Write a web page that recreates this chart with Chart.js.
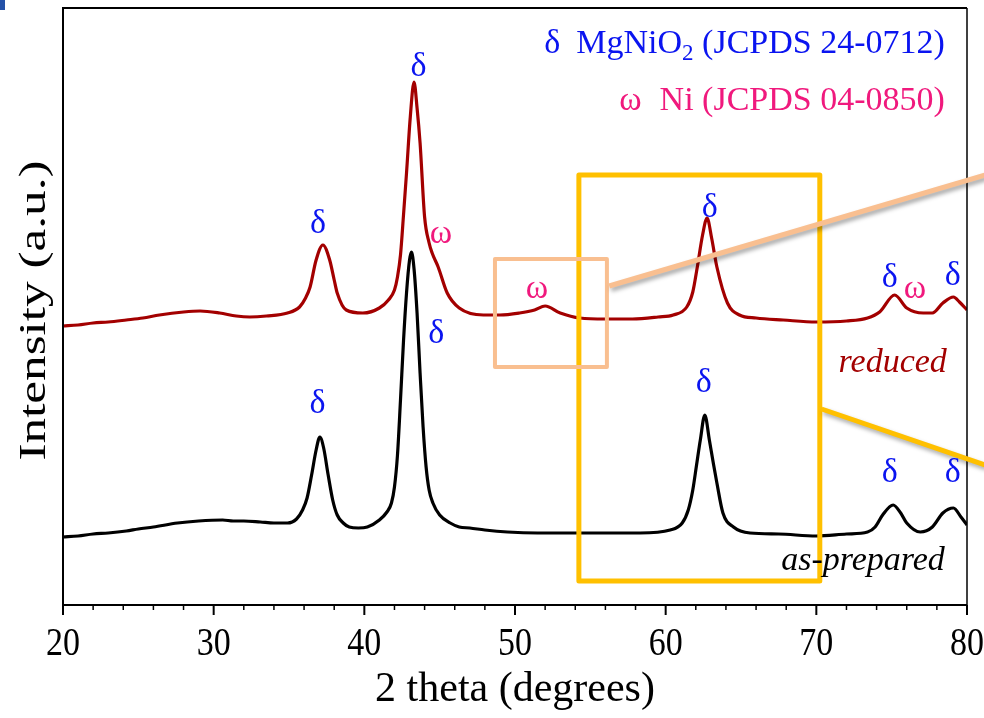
<!DOCTYPE html>
<html>
<head>
<meta charset="utf-8">
<script src="https://cdn.jsdelivr.net/npm/chart.js@4.4.1/dist/chart.umd.min.js"></script>
<style>
  html, body { margin: 0; padding: 0; background: #fff; }
  #wrap { width: 984px; height: 718px; position: relative; }
</style>
</head>
<body>
<div id="wrap"><canvas id="xrd"></canvas></div>
<script>
// 2 theta (degrees) and intensity (a.u.)
const asPreparedTheta = [20.0, 21.0, 22.0, 23.0, 24.2, 25.0, 26.0, 27.6, 29.0, 30.6, 31.3, 32.0, 33.1, 34.0, 34.9, 35.5, 35.9, 36.2, 36.5, 36.8, 37.05, 37.3, 37.6, 37.9, 38.2, 38.6, 39.0, 39.6, 40.2, 41.0, 41.5, 41.8, 42.0, 42.2, 42.4, 42.6, 42.8, 43.0, 43.13, 43.3, 43.5, 43.7, 43.9, 44.1, 44.3, 44.55, 45.0, 45.7, 46.3, 47.0, 48.0, 49.5, 51.5, 53.8, 56.0, 58.3, 60.3, 61.1, 61.5, 61.8, 62.05, 62.3, 62.6, 62.9, 63.15, 63.4, 63.8, 64.5, 65.6, 67.5, 70.0, 72.0, 73.4, 73.9, 74.4, 75.1, 75.6, 76.0, 76.9, 77.7, 78.4, 79.1, 79.6, 80.0];
const asPreparedInt = [68, 69, 71, 72, 74, 76, 78, 82, 84, 85, 84, 84, 83, 82, 82, 86, 95, 107, 130, 155, 168, 157, 130, 105, 90, 82, 78, 77, 78, 85, 93, 102, 118, 150, 205, 264, 312, 345, 353, 336, 292, 232, 178, 138, 115, 102, 90, 82, 78, 77, 75, 73, 72, 72, 72, 72, 75, 82, 95, 115, 140, 165, 190, 165, 143, 122, 92, 78, 72, 71, 69, 71, 73, 78, 90, 100, 92, 82, 73, 78, 92, 97, 88, 80];

const reducedTheta = [20.0, 21.0, 22.0, 23.0, 24.2, 25.3, 26.4, 28.0, 29.1, 30.4, 31.5, 32.4, 33.5, 34.9, 35.7, 36.1, 36.4, 36.8, 37.25, 37.7, 38.0, 38.2, 38.8, 39.9, 41.0, 41.6, 42.0, 42.2, 42.4, 42.6, 42.8, 43.05, 43.3, 43.5, 43.7, 44.0, 44.3, 44.5, 44.9, 45.5, 46.3, 47.9, 49.0, 50.3, 51.3, 52.0, 53.0, 54.3, 56.0, 57.8, 59.5, 60.5, 61.4, 61.8, 62.1, 62.45, 62.75, 63.05, 63.4, 64.1, 64.9, 66.0, 67.8, 70.0, 72.0, 73.4, 74.2, 75.2, 76.0, 77.1, 77.7, 78.4, 79.1, 79.5, 80.0];
const reducedInt = [279, 280, 282, 283, 285, 287, 290, 293, 294, 292, 289, 288, 289, 292, 298, 307, 318, 345, 360, 345, 325, 312, 295, 292, 297, 305, 315, 328, 350, 390, 432, 488, 523, 497, 462, 388, 362, 352, 338, 312, 297, 290, 290, 292, 295, 299, 292, 287, 286, 286, 288, 290, 298, 313, 338, 370, 387, 367, 338, 302, 290, 287, 285, 283, 284, 287, 293, 310, 297, 292, 292, 302, 308, 303, 295];

const xTicks = [20, 30, 40, 50, 60, 70, 80];

// peak labels: symbol, 2theta, intensity of the glyph baseline
const peakSymbols = ['δ', 'δ', 'ω', 'δ', 'ω', 'δ', 'δ', 'ω', 'δ', 'δ', 'δ', 'δ', 'δ'];
const peakTheta = [36.92, 43.6, 45.08, 44.78, 51.45, 62.93, 74.88, 76.54, 79.06, 36.89, 62.53, 74.88, 79.06];
const peakLabelInt = [372, 529, 362, 262, 307, 388, 318, 307, 320, 192, 213, 123, 123];

const BLUE = '#0a14f0';
const PINK = '#f0197d';
const RED = '#a30000';
const SERIF = '"Liberation Serif", "Times New Roman", serif';

function pairs(xs, ys) {
  return xs.map((v, i) => ({ x: v, y: ys[i] }));
}

const annotate = {
  id: 'annotate',
  afterDatasetsDraw(chart) {
    const { ctx, chartArea: a } = chart;
    const x = chart.scales.x, y = chart.scales.y;
    const px = v => x.getPixelForValue(v);
    const py = v => y.getPixelForValue(v);
    ctx.save();

    // frame
    ctx.strokeStyle = '#000';
    ctx.lineWidth = 2;
    ctx.beginPath();
    ctx.moveTo(a.right, a.top); ctx.lineTo(a.left, a.top); ctx.lineTo(a.left, a.bottom); ctx.lineTo(a.right, a.bottom);
    ctx.stroke();
    ctx.lineWidth = 1.5;
    ctx.beginPath(); ctx.moveTo(a.right, a.top); ctx.lineTo(a.right, a.bottom); ctx.stroke();

    // x ticks, outward, with narrow tall labels like the original
    for (let t = 20; t <= 80; t += 2) {
      const major = t % 10 === 0;
      ctx.lineWidth = major ? 2 : 1.5;
      ctx.beginPath();
      ctx.moveTo(px(t), a.bottom);
      ctx.lineTo(px(t), a.bottom + (major ? 10 : 5));
      ctx.stroke();
    }
    ctx.fillStyle = '#000';
    ctx.font = '40px ' + SERIF;
    ctx.textAlign = 'center';
    ctx.textBaseline = 'alphabetic';
    xTicks.forEach(t => {
      ctx.save();
      ctx.translate(px(t), a.bottom + 50);
      ctx.scale(0.85, 1);
      ctx.fillText(String(t), 0, 0);
      ctx.restore();
    });

    // y title, stretched along its length
    ctx.save();
    ctx.font = '38px ' + SERIF;
    const yTitle = 'Intensity (a.u.)';
    const wy = ctx.measureText(yTitle).width;
    ctx.translate(a.left - 18, (a.top + a.bottom) / 2 + 4);
    ctx.rotate(-Math.PI / 2);
    ctx.scale(300 / wy, 1);
    ctx.fillText(yTitle, 0, 0);
    ctx.restore();

    // zoom boxes
    ctx.lineJoin = 'round';
    ctx.strokeStyle = '#ffc000';
    ctx.lineWidth = 5;
    ctx.strokeRect(px(54.24), py(430), px(70.23) - px(54.24), py(24) - py(430));
    ctx.strokeStyle = '#f9bf90';
    ctx.lineWidth = 4;
    ctx.strokeRect(px(48.67), py(346), px(56.1) - px(48.67), py(238) - py(346));

    // lines leading out of the boxes
    ctx.shadowColor = 'rgba(0,0,0,0.35)';
    ctx.shadowBlur = 4;
    ctx.shadowOffsetX = 2;
    ctx.shadowOffsetY = 3;
    ctx.strokeStyle = '#f9bf90';
    ctx.lineWidth = 5;
    ctx.beginPath(); ctx.moveTo(px(56.25), py(319)); ctx.lineTo(px(81.2), py(430)); ctx.stroke();
    ctx.strokeStyle = '#ffc000';
    ctx.beginPath(); ctx.moveTo(px(70.35), py(196)); ctx.lineTo(px(81.2), py(140)); ctx.stroke();
    ctx.shadowColor = 'transparent';

    // peak symbols
    ctx.textAlign = 'center';
    ctx.textBaseline = 'alphabetic';
    ctx.font = '34px ' + SERIF;
    peakSymbols.forEach((s, i) => {
      ctx.fillStyle = s === 'δ' ? BLUE : PINK;
      ctx.fillText(s, px(peakTheta[i]), py(peakLabelInt[i]));
    });

    // sample names
    ctx.textAlign = 'right';
    ctx.font = 'italic 34px ' + SERIF;
    ctx.fillStyle = RED;
    ctx.fillText('reduced', px(78.66), py(233));
    ctx.fillStyle = '#000';
    ctx.fillText('as-prepared', px(78.53), py(35));

    // phase key, right aligned
    const big = '34px ' + SERIF, small = '23px ' + SERIF;
    let right = px(78.53), base = py(552);
    ctx.textAlign = 'left';
    ctx.fillStyle = BLUE;
    ctx.font = big;
    const tail = ' (JCPDS 24-0712)';
    const wTail = ctx.measureText(tail).width;
    const wHead = ctx.measureText('MgNiO').width;
    ctx.font = small;
    const wSub = ctx.measureText('2').width;
    let x0 = right - wTail - wSub - wHead;
    ctx.font = big;
    ctx.fillText('MgNiO', x0, base);
    ctx.fillText(tail, x0 + wHead + wSub, base);
    ctx.font = small;
    ctx.fillText('2', x0 + wHead, base + 7);
    ctx.font = big;
    ctx.textAlign = 'right';
    ctx.fillText('δ', x0 - 16, base);

    base = py(495);
    ctx.fillStyle = PINK;
    ctx.fillText('Ni (JCPDS 04-0850)', right, base);
    const wNi = ctx.measureText('Ni (JCPDS 04-0850)').width;
    ctx.fillText('ω', right - wNi - 18, base);

    ctx.restore();

    // cropped corner mark
    ctx.fillStyle = '#2452a8';
    ctx.fillRect(0, 0, 5, 10);
  }
};

new Chart(document.getElementById('xrd'), {
  type: 'line',
  data: {
    datasets: [
      { label: 'reduced', data: pairs(reducedTheta, reducedInt), borderColor: RED },
      { label: 'as-prepared', data: pairs(asPreparedTheta, asPreparedInt), borderColor: '#000' }
    ]
  },
  options: {
    responsive: true,
    maintainAspectRatio: false,
    animation: false,
    layout: { padding: { top: 8, right: 17, left: 0, bottom: 0 } },
    elements: {
      point: { radius: 0 },
      line: { borderWidth: 3.2, cubicInterpolationMode: 'monotone', fill: false }
    },
    plugins: { legend: { display: false }, tooltip: { enabled: false } },
    scales: {
      x: {
        type: 'linear',
        min: 20,
        max: 80,
        afterFit: s => { s.height = 113; s.paddingLeft = 0; s.paddingRight = 0; },
        afterBuildTicks: s => { s.ticks = xTicks.map(v => ({ value: v })); },
        grid: { display: false },
        border: { display: false },
        ticks: { display: false },
        title: { display: true, text: '2 theta (degrees)', color: '#000', font: { family: SERIF, size: 42 }, padding: { top: 0, bottom: 3 } }
      },
      y: {
        min: 0,
        max: 597,
        afterFit: s => { s.width = 63; },
        grid: { display: false },
        border: { display: false },
        ticks: { display: false }
      }
    }
  },
  plugins: [annotate]
});
</script>
</body>
</html>
